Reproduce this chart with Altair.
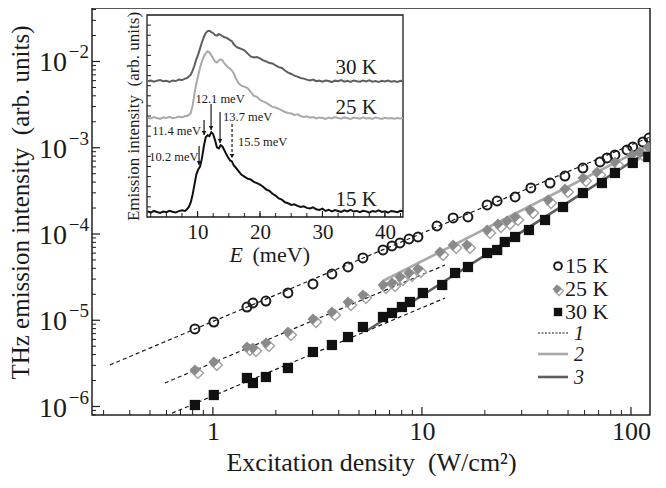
import math
import altair as alt
import pandas as pd

# ---------------- main panel data ----------------
p15 = [0.82, 1.01, 1.455, 1.554, 1.793, 2.285, 3.01, 3.71, 4.43, 5.22, 6.51, 7.19, 7.85, 8.67, 9.57, 11.8,
       14.1, 16.6, 20.5, 22.9, 27.9, 33.2, 41.0, 48.3, 58.9, 71.1, 76.8, 83.8, 95.7, 102, 114, 122]
i15 = [7.92e-6, 9.54e-6, 1.424e-5, 1.585e-5, 1.671e-5, 2.07e-5, 2.633e-5, 3.437e-5, 4.144e-5, 5.27e-5,
       6.525e-5, 7.26e-5, 7.865e-5, 8.75e-5, 9.23e-5, 1.238e-4, 1.533e-4, 1.574e-4, 2.169e-4, 2.413e-4,
       2.685e-4, 3.415e-4, 3.90e-4, 4.70e-4, 5.82e-4, 6.84e-4, 7.61e-4, 8.24e-4, 9.42e-4, 1.020e-3,
       1.166e-3, 1.297e-3]

p25 = [0.82, 1.01, 1.455, 1.554, 1.793, 2.285, 3.01, 3.71, 4.43, 5.22, 6.51, 7.19, 7.85, 8.67, 9.57, 12.2,
       14.1, 16.4, 20.5, 23.1, 25.5, 27.9, 32.9, 40.1, 48.3, 58.9, 68.8, 83.8, 101, 110, 121]
i25 = [2.65e-6, 3.28e-6, 4.90e-6, 4.77e-6, 5.45e-6, 7.31e-6, 1.034e-5, 1.246e-5, 1.628e-5, 1.963e-5,
       2.563e-5, 2.703e-5, 3.17e-5, 3.53e-5, 3.93e-5, 6.18e-5, 7.46e-5, 7.46e-5, 1.112e-4, 1.305e-4,
       1.415e-4, 1.574e-4, 1.898e-4, 2.478e-4, 3.324e-4, 4.46e-4, 5.24e-4, 6.84e-4, 8.24e-4, 8.93e-4,
       1.020e-3]

p30 = [0.82, 1.01, 1.455, 1.554, 1.793, 2.285, 3.01, 3.71, 4.43, 5.22, 6.51, 7.19, 8.02, 8.76, 10.1, 12.5,
       14.4, 16.6, 20.5, 22.9, 24.9, 27.9, 32.5, 38.8, 47.3, 58.9, 72.6, 83.8, 102, 121]
i30 = [1.041e-6, 1.359e-6, 2.14e-6, 1.873e-6, 2.198e-6, 2.795e-6, 4.284e-6, 5.164e-6, 6.39e-6, 8.35e-6,
       1.091e-5, 1.214e-5, 1.424e-5, 1.628e-5, 2.07e-5, 2.563e-5, 3.53e-5, 4.144e-5, 6.02e-5, 6.525e-5,
       8.08e-5, 9.23e-5, 1.112e-4, 1.453e-4, 2.056e-4, 2.987e-4, 3.90e-4, 5.10e-4, 6.66e-4, 7.81e-4]

# fit lines: 1 (dashed, one per temperature), 2 (light grey), 3 (dark grey)
fit1_p = [[0.3215, 123.3], [0.589, 12.9], [0.637, 12.9]]
fit1_i = [[3.03e-6, 1.332e-3], [1.873e-6, 4.37e-5], [8.36e-7, 1.811e-5]]
fit2_p = [6.51, 123.3]
fit2_i = [2.851e-5, 1.076e-3]
fit3_p = [5.52, 123.3]
fit3_i = [7.71e-6, 9.42e-4]

legend_labels = ["15 K", "25 K", "30 K"]
line_labels = ["1", "2", "3"]

# ---------------- inset data ----------------
E = [2.0, 2.5, 3.0, 3.5, 4.0, 4.5, 5.0, 5.5, 6.0, 6.5, 7.0, 7.5, 8.0,
     8.3, 8.6, 8.9, 9.2, 9.5, 9.8, 10.1, 10.4, 10.7, 11.0, 11.3, 11.6, 11.9, 12.2, 12.5, 12.8, 13.1, 13.4,
     13.7, 14.0, 14.3, 14.6, 14.9, 15.2, 15.5, 15.8, 16.1,
     16.5, 17.0, 17.5, 18.0, 18.5, 19.0, 19.5, 20.0, 20.5, 21.0, 21.5, 22.0, 22.5, 23.0, 23.5, 24.0, 24.5,
     25.0, 25.5, 26.0, 26.5, 27.0, 27.5, 28.0, 28.5, 29.0, 29.5, 30.0, 30.5, 31.0, 31.5, 32.0, 32.5, 33.0,
     33.5, 34.0, 34.5, 35.0, 35.5, 36.0, 36.5, 37.0, 37.5, 38.0, 38.5, 39.0, 39.5, 40.0, 40.5, 41.0, 41.5,
     42.0, 42.5, 42.9]
v15 = [0.28, 0.22, 0.30, 0.25, 0.20, 0.27, 0.24, 0.31, 0.26, 0.22, 0.29, 0.33, 0.30,
       0.38, 0.50, 0.72, 1.10, 1.60, 2.10, 2.35, 2.50, 2.90, 3.50, 3.95, 4.05, 4.00, 4.20, 4.10, 3.80,
       3.45, 3.40, 3.55, 3.48, 3.30, 3.10, 2.95, 2.80, 2.75, 2.55, 2.45,
       2.30, 2.10, 2.00, 1.90, 1.86, 1.74, 1.68, 1.60, 1.50, 1.36, 1.30, 1.15, 1.06, 0.92, 0.86, 0.73,
       0.68, 0.60, 0.63, 0.55, 0.50, 0.53, 0.45, 0.42, 0.48, 0.38, 0.35, 0.41, 0.30, 0.36, 0.28, 0.34,
       0.30, 0.25, 0.33, 0.28, 0.35, 0.27, 0.30, 0.24, 0.31, 0.28, 0.22, 0.30, 0.26, 0.33, 0.25, 0.28,
       0.22, 0.30, 0.27, 0.24, 0.31, 0.28]
v25 = [4.92, 4.88, 4.95, 4.90, 4.86, 4.93, 4.90, 4.96, 4.89, 4.92, 4.97, 4.93, 5.00,
       5.00, 5.05, 5.15, 5.50, 6.10, 6.60, 7.00, 7.40, 7.70, 7.95, 8.10, 8.20, 8.15, 8.00, 7.85, 7.70,
       7.65, 7.75, 7.80, 7.75, 7.60, 7.50, 7.40, 7.35, 7.25, 7.10, 6.90,
       6.65, 6.50, 6.45, 6.38, 6.20, 6.00, 5.95, 5.80, 5.72, 5.65, 5.55, 5.45, 5.42, 5.35, 5.28, 5.20,
       5.15, 5.12, 5.05, 5.08, 5.00, 4.95, 4.98, 4.92, 4.95, 4.88, 4.93, 4.90, 4.86, 4.92, 4.88, 4.95,
       4.90, 4.87, 4.93, 4.89, 4.85, 4.92, 4.90, 4.87, 4.93, 4.88, 4.90, 4.86, 4.92, 4.89, 4.85, 4.91,
       4.88, 4.90, 4.86, 4.90, 4.88, 4.90]
v30 = [6.72, 6.76, 6.70, 6.75, 6.78, 6.72, 6.74, 6.69, 6.76, 6.73, 6.80, 6.78, 6.85,
       6.88, 6.95, 7.05, 7.25, 7.50, 7.80, 8.05, 8.35, 8.65, 8.90, 9.10, 9.20, 9.22, 9.15, 9.10, 9.00,
       8.98, 9.05, 9.02, 8.95, 8.90, 8.88, 8.82, 8.75, 8.70, 8.55, 8.45,
       8.38, 8.32, 8.25, 8.10, 7.95, 7.90, 7.92, 7.85, 7.75, 7.70, 7.62, 7.60, 7.50, 7.42, 7.38, 7.25,
       7.15, 7.08, 7.00, 6.95, 6.88, 6.85, 6.80, 6.76, 6.80, 6.72, 6.75, 6.70, 6.76, 6.73, 6.68, 6.75,
       6.72, 6.78, 6.70, 6.74, 6.69, 6.76, 6.72, 6.70, 6.75, 6.71, 6.77, 6.70, 6.73, 6.68, 6.74, 6.71,
       6.76, 6.70, 6.73, 6.69, 6.74, 6.72]

inset_T = ["30 K", "25 K", "15 K"]
inset_T_E = [35.4, 35.4, 35.4]
inset_T_v = [7.38, 5.40, 0.84]

ann_text = ["10.2 meV", "11.4 meV", "12.1 meV", "13.7 meV", "15.5 meV"]
ann_E = [10.16, 10.56, 13.6, 14.08, 16.48]
ann_v = [2.97, 4.26, 5.84, 4.95, 3.71]
arrow_E = [10.24, 11.04, 12.16, 13.6, 15.52]
arrow_top = [3.51, 4.80, 5.59, 5.20, 4.60]
arrow_tip = [2.57, 4.06, 4.31, 3.66, 2.92]

# ---------------- style ----------------
FONT = "Liberation Serif"
INK = "#1a1a1a"
W, H = 558, 407
xdom = [0.264, 123.3]
ydom = [7.97e-7, 0.0417]

xs = alt.Scale(type="log", domain=xdom, nice=False)
ys = alt.Scale(type="log", domain=ydom, nice=False)
xaxis = alt.Axis(values=[1, 10, 100], format="d", ticks=False, domain=False, grid=False,
                 labelFontSize=26, labelPadding=3, labelFlush=False,
                 title="Excitation density\u00a0 (W/cm²)", titleFontSize=26,
                 titleFontWeight="normal", titlePadding=5)
yaxis = alt.Axis(values=[1e-6, 1e-5, 1e-4, 1e-3, 1e-2], labels=False, ticks=False, domain=False,
                 grid=False,
                 title="THz emission intensity\u00a0 (arb. units)", titleFontSize=25,
                 titleFontWeight="normal", titleX=-59, titleY=194, titleAngle=-90,
                 titleAlign="center", titleBaseline="bottom")
XE = alt.X("P:Q", scale=xs, axis=xaxis)
YE = alt.Y("I:Q", scale=ys, axis=yaxis)

# tick lists (axis structure)
ymaj = [1e-6, 1e-5, 1e-4, 1e-3, 1e-2]
ymin_t = [m * 10.0 ** e for e in range(-7, -1) for m in range(2, 10) if ydom[0] <= m * 10.0 ** e <= ydom[1]]
xmaj = [1, 10, 100]
xmin_t = [m * 10.0 ** e for e in range(-1, 2) for m in range(2, 10) if xdom[0] <= m * 10.0 ** e <= xdom[1]]

yt_major = alt.Chart(pd.DataFrame({"I": ymaj})).mark_rule(color=INK, strokeWidth=1.2).encode(
    y=YE, x=alt.value(0), x2=alt.value(8))
yt_minor = alt.Chart(pd.DataFrame({"I": ymin_t})).mark_rule(color=INK, strokeWidth=1.0).encode(
    y=YE, x=alt.value(0), x2=alt.value(4))
xt_major = alt.Chart(pd.DataFrame({"P": xmaj})).mark_rule(color=INK, strokeWidth=1.2).encode(
    x=XE, y=alt.value(H), y2=alt.value(H - 8))
xt_minor = alt.Chart(pd.DataFrame({"P": xmin_t})).mark_rule(color=INK, strokeWidth=1.0).encode(
    x=XE, y=alt.value(H), y2=alt.value(H - 5))

# y tick labels as "10" with a raised exponent
ylab_df = pd.DataFrame({"I": ymaj,
                        "base": ["10"] * len(ymaj),
                        "sup": ["\u2212" + str(int(round(-math.log10(v)))) for v in ymaj]})
ylab_base = alt.Chart(ylab_df).mark_text(font=FONT, fontSize=28, color=INK, align="right",
                                         baseline="middle", dy=2).encode(
    y=YE, x=alt.value(-25), text="base:N")
ylab_sup = alt.Chart(ylab_df).mark_text(font=FONT, fontSize=19, color=INK, align="right",
                                        baseline="middle", dy=-9).encode(
    y=YE, x=alt.value(-3), text="sup:N")

# fit lines
rows = []
for k, (pp, ii) in enumerate(zip(fit1_p, fit1_i)):
    for a, b in zip(pp, ii):
        rows.append({"P": a, "I": b, "seg": k})
fit1 = alt.Chart(pd.DataFrame(rows)).mark_line(color=INK, strokeWidth=1.2, strokeDash=[4, 3], clip=True).encode(
    x=XE, y=YE, detail="seg:N")
fit2 = alt.Chart(pd.DataFrame({"P": fit2_p, "I": fit2_i})).mark_line(
    color="#a9a9a9", strokeWidth=2.6, clip=True).encode(x=XE, y=YE)
fit3 = alt.Chart(pd.DataFrame({"P": fit3_p, "I": fit3_i})).mark_line(
    color="#5e5e5e", strokeWidth=2.6, clip=True).encode(x=XE, y=YE)

# data points
pts15 = alt.Chart(pd.DataFrame({"P": p15, "I": i15})).mark_point(
    shape="circle", filled=False, color=INK, strokeWidth=2, size=80, opacity=1, clip=True).encode(x=XE, y=YE)
pts25o = alt.Chart(pd.DataFrame({"P": p25, "I": i25})).mark_point(
    shape="diamond", filled=False, color="#a3a3a3", strokeWidth=1.5, size=120, opacity=1,
    xOffset=3, yOffset=3, clip=True).encode(x=XE, y=YE)
pts25f = alt.Chart(pd.DataFrame({"P": p25, "I": i25})).mark_point(
    shape="diamond", filled=True, color="#8a8a8a", size=120, opacity=1, clip=True).encode(x=XE, y=YE)
pts30 = alt.Chart(pd.DataFrame({"P": p30, "I": i30})).mark_point(
    shape="square", filled=True, color="#111111", size=105, opacity=1, clip=True).encode(x=XE, y=YE)

# legend
one = pd.DataFrame({"a": [0]})
leg_rows = [258, 281, 304]
leg_c = alt.Chart(one).mark_point(shape="circle", filled=False, color=INK, strokeWidth=2, size=60,
                                  opacity=1).encode(x=alt.value(466), y=alt.value(leg_rows[0]))
leg_do = alt.Chart(one).mark_point(shape="diamond", filled=False, color="#a3a3a3", strokeWidth=1.3,
                                   size=80, opacity=1).encode(x=alt.value(467), y=alt.value(leg_rows[1] + 2))
leg_df = alt.Chart(one).mark_point(shape="diamond", filled=True, color="#8a8a8a", size=80,
                                   opacity=1).encode(x=alt.value(465), y=alt.value(leg_rows[1]))
leg_s = alt.Chart(one).mark_point(shape="square", filled=True, color="#111111", size=70,
                                  opacity=1).encode(x=alt.value(466), y=alt.value(leg_rows[2]))
leg_txt = [alt.Chart(one).mark_text(align="left", baseline="middle", font=FONT, fontSize=22,
                                    color=INK).encode(x=alt.value(473), y=alt.value(yy),
                                                      text=alt.value(t))
           for t, yy in zip(legend_labels, leg_rows)]
leg_l1 = alt.Chart(one).mark_rule(color=INK, strokeWidth=1.2, strokeDash=[2, 1.5]).encode(
    x=alt.value(446), x2=alt.value(476), y=alt.value(325))
leg_l2 = alt.Chart(one).mark_rule(color="#a9a9a9", strokeWidth=2.6).encode(
    x=alt.value(446), x2=alt.value(476), y=alt.value(346))
leg_l3 = alt.Chart(one).mark_rule(color="#5e5e5e", strokeWidth=2.6).encode(
    x=alt.value(446), x2=alt.value(476), y=alt.value(369))
leg_num = [alt.Chart(one).mark_text(align="left", baseline="middle", font=FONT, fontSize=20,
                                    fontStyle="italic", color=INK).encode(
    x=alt.value(482), y=alt.value(yy), text=alt.value(t))
    for t, yy in zip(line_labels, [326, 347, 370])]

main = alt.layer(fit1, fit2, fit3, pts15, pts25o, pts25f, pts30,
                 yt_major, yt_minor, xt_major, xt_minor, ylab_base, ylab_sup,
                 leg_c, leg_do, leg_df, leg_s, *leg_txt, leg_l1, leg_l2, leg_l3, *leg_num)

# ---------------- inset ----------------
exs = alt.Scale(domain=[1.9, 42.9], range=[55, 311], nice=False, zero=False)
eys = alt.Scale(domain=[0, 10], range=[209, 7], nice=False, zero=False)
ex_axis = alt.Axis(orient="bottom", offset=-198, values=[10, 20, 30, 40], ticks=False, domain=False,
                   grid=False, labelFontSize=21, labelPadding=4, labelFlush=False, title=None)
ey_axis = alt.Axis(orient="left", offset=-55, labels=False, ticks=False, domain=False, grid=False,
                   title="Emission intensity\u00a0 (arb. units)", titleFontSize=17,
                   titleFontWeight="normal", titlePadding=5)
EX = alt.X("E:Q", scale=exs, axis=ex_axis)
EY = alt.Y("v:Q", scale=eys, axis=ey_axis)

frame = alt.Chart(pd.DataFrame({"E": [1.9], "E2": [42.9], "v": [0], "v2": [10]})).mark_rect(
    fill="white", stroke=INK, strokeWidth=1.3).encode(x=EX, x2="E2:Q", y=EY, y2="v2:Q")

spec_rows = []
for name, vals in (("30 K", v30), ("25 K", v25), ("15 K", v15)):
    for e, v in zip(E, vals):
        spec_rows.append({"E": e, "v": v, "T": name})
spectra = alt.Chart(pd.DataFrame(spec_rows)).mark_line(strokeWidth=2).encode(
    x=EX, y=EY, detail="T:N",
    color=alt.Color("T:N", scale=alt.Scale(domain=["15 K", "25 K", "30 K"],
                                           range=["#111111", "#a9a9a9", "#5e5e5e"]), legend=None))

ev_minor = [2.5 * k for k in range(1, 18)]
ev_major = [10, 20, 30, 40]
vt = [0.5 * k for k in range(1, 20)]
it_left = alt.Chart(pd.DataFrame({"v": vt})).mark_rule(color=INK, strokeWidth=1).encode(
    y=EY, x=alt.value(55), x2=alt.value(59))
it_bmin = alt.Chart(pd.DataFrame({"E": ev_minor})).mark_rule(color=INK, strokeWidth=1).encode(
    x=EX, y=alt.value(209), y2=alt.value(205))
it_bmaj = alt.Chart(pd.DataFrame({"E": ev_major})).mark_rule(color=INK, strokeWidth=1.1).encode(
    x=EX, y=alt.value(209), y2=alt.value(203))

tlab = alt.Chart(pd.DataFrame({"E": inset_T_E, "v": inset_T_v, "t": inset_T})).mark_text(
    font=FONT, fontSize=21, color=INK, align="center", baseline="middle").encode(x=EX, y=EY, text="t:N")

ann = pd.DataFrame({"E": ann_E, "v": ann_v, "t": ann_text})
ann_r = alt.Chart(ann.iloc[0:2]).mark_text(font=FONT, fontSize=12.5, color=INK, align="right",
                                           baseline="middle").encode(x=EX, y=EY, text="t:N")
ann_c = alt.Chart(ann.iloc[2:3]).mark_text(font=FONT, fontSize=12.5, color=INK, align="center",
                                           baseline="middle").encode(x=EX, y=EY, text="t:N")
ann_l = alt.Chart(ann.iloc[3:5]).mark_text(font=FONT, fontSize=12.5, color=INK, align="left",
                                           baseline="middle").encode(x=EX, y=EY, text="t:N")
arr = pd.DataFrame({"E": arrow_E, "v": arrow_top, "v2": arrow_tip})
arr_solid = alt.Chart(arr.iloc[0:4]).mark_rule(color=INK, strokeWidth=1.2).encode(x=EX, y=EY, y2="v2:Q")
arr_dash = alt.Chart(arr.iloc[4:5]).mark_rule(color=INK, strokeWidth=1.2, strokeDash=[3, 2]).encode(
    x=EX, y=EY, y2="v2:Q")
heads = alt.Chart(pd.DataFrame({"E": arrow_E, "v": arrow_tip})).mark_point(
    shape="triangle-down", filled=True, color=INK, size=22, opacity=1, yOffset=-2).encode(x=EX, y=EY)

xtitle_E = alt.Chart(pd.DataFrame({"E": [16.2], "v": [-1.9], "t": ["E"]})).mark_text(
    font=FONT, fontSize=22, fontStyle="italic", color=INK, align="center", baseline="middle").encode(
    x=EX, y=EY, text="t:N")
xtitle_u = alt.Chart(pd.DataFrame({"E": [23.4], "v": [-1.9], "t": ["(meV)"]})).mark_text(
    font=FONT, fontSize=22, color=INK, align="center", baseline="middle").encode(
    x=EX, y=EY, text="t:N")

inset = alt.layer(frame, spectra, it_left, it_bmin, it_bmaj, tlab, ann_r, ann_c, ann_l,
                  arr_solid, arr_dash, heads, xtitle_E, xtitle_u)

chart = alt.layer(main, inset).resolve_scale(x="independent", y="independent", color="independent").properties(
    width=W, height=H,
    autosize=alt.AutoSizeParams(type="none"),
    padding={"left": 84, "top": 0, "right": 8, "bottom": 65},
).configure_view(stroke="#222222", strokeWidth=1.5).configure_axis(
    labelFont=FONT, titleFont=FONT, labelColor=INK, titleColor=INK)

chart.save("out.html", embed_options={"renderer": "svg", "actions": False})
